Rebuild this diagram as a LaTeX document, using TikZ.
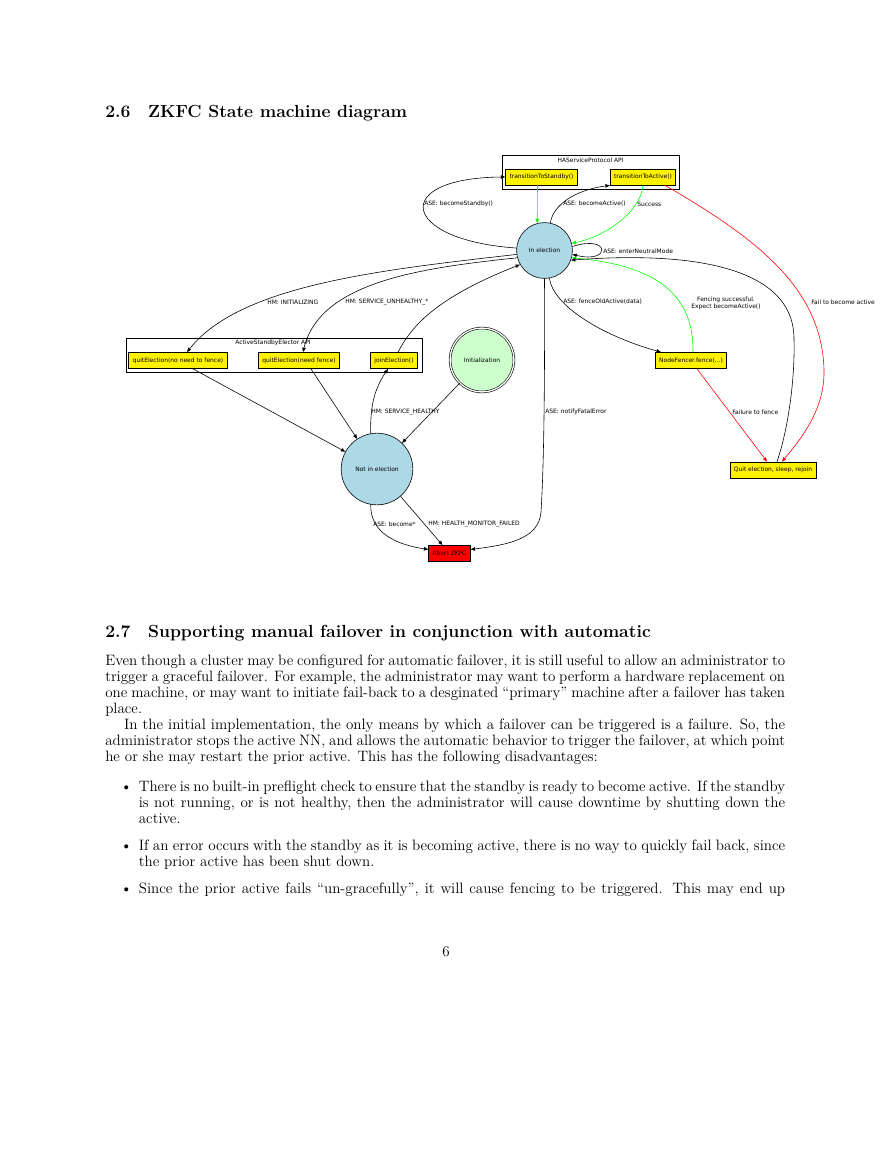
\documentclass[tikz,border=0pt]{standalone}
\usepackage{fontspec}
\usepackage{tikz}
\usetikzlibrary{arrows.meta,calc}
\newfontfamily\dgfont{DejaVu Sans}
\newcommand\dgsize{\dgfont\fontsize{4.1}{5}\selectfont}
\newcommand\bodysize{\fontsize{11.2}{12}\selectfont}
\newcommand\headsize{\fontsize{13.06}{16}\selectfont\bfseries}
\definecolor{lightblue}{HTML}{ADD8E6}
\definecolor{initgreen}{HTML}{CCFFCC}
\definecolor{edgegreen}{HTML}{00FF00}
\definecolor{edgered}{HTML}{FF0000}

\begin{document}
\begin{tikzpicture}[x=0.024177cm, y=-0.024177cm,
    state/.style={circle, draw, line width=0.4pt, fill=lightblue, font=\dgsize, inner sep=0pt},
    initstate/.style={circle, draw, line width=0.4pt, double=white, double distance=0.9pt, fill=initgreen, font=\dgsize, inner sep=0pt},
    apibox/.style={draw, line width=0.55pt, fill=yellow, font=\dgsize, minimum height=11pt, inner xsep=2.7pt, inner ysep=0pt},
    cluster/.style={draw, line width=0.55pt},
    lbl/.style={font=\dgsize, inner sep=0pt, anchor=west},
    edge/.style={-{Triangle[length=3pt,width=2.4pt]}, line width=0.4pt},
    page/.style={scale=0.924, transform shape, inner sep=0pt}
  ]
  \useasboundingbox (0,0) rectangle (893,1155);

  % section heading
  \node[page, anchor=base west] (sec6) at (105,118) {\headsize 2.6\quad ZKFC State machine diagram};

  % clusters
  \draw[cluster] (502,155) rectangle (679,189);
  \node[font=\dgsize, inner sep=0pt] (hasp) at (590.5,160) {HAServiceProtocol API};
  \draw[cluster] (126,338) rectangle (422,372);
  \node[font=\dgsize, inner sep=0pt] (ase) at (273,342.5) {ActiveStandbyElector API};

  % states and calls
  \node[apibox] (tts) at (541.5,177) {transitionToStandby()};
  \node[apibox] (tta) at (643,177) {transitionToActive()};
  \node[state, minimum size=38.4pt] (inel) at (544.5,250.5) {In election};
  \node[state, minimum size=49.3pt] (nie) at (377,469) {Not in election};
  \node[initstate, minimum size=43.9pt] (init) at (482,360) {Initialization};
  \node[apibox] (qnn) at (178,360.5) {quitElection(no need to fence)};
  \node[apibox] (qnf) at (299,360.5) {quitElection(need fence)};
  \node[apibox] (join) at (394,360.5) {joinElection()};
  \node[apibox] (nf) at (691,360.5) {NodeFencer.fence(...)};
  \node[apibox] (quit) at (773,470) {Quit election, sleep, rejoin};
  \node[apibox, fill=red] (abort) at (449.5,553.5) {Abort ZKFC};

  % transitions
  \draw[edge] (inel.175) .. controls (400,240) and (390,178) .. (tts.west);
  \draw[edge, edgegreen] ($(tts.south)+(-4,0)$) -- (inel.105);
  \draw[edge] (inel.78) .. controls (553,205) and (575,190) .. (tta.south west);
  \draw[edge, edgegreen] (tta.south) .. controls (640,215) and (600,238) .. (inel.15);
  \draw[edge] (inel.8) .. controls (610,234) and (612,264) .. (inel.-8);
  \draw[edge] (inel.188) .. controls (380,270) and (240,285) .. ($(qnn.north)+(9,0)$);
  \draw[edge] (inel.195) .. controls (420,268) and (320,282) .. ($(qnf.north)+(4,0)$);
  \draw[edge] ($(join.north)+(4,0)$) .. controls (410,330) and (430,300) .. (inel.210);
  \draw[edge] ($(qnn.south)+(15,0)$) -- (nie);
  \draw[edge] ($(qnf.south)+(12,0)$) -- (nie);
  \draw[edge] (nie.100) .. controls (370,405) and (375,388) .. ($(join.south)+(-6,0)$);
  \draw[edge] (init) -- (nie);
  \draw[edge] (inel.south) .. controls (545,420) and (543,480) .. (541,512)
    .. controls (539,540) and (505,545) .. ($(abort.east)+(0,-4)$);
  \draw[edge] (nie.-100) .. controls (370,535) and (400,545) .. ($(abort.west)+(0,-4)$);
  \draw[edge] (nie) -- ($(abort.north)+(-7,0)$);
  \draw[edge] (inel.-80) .. controls (553,305) and (600,335) .. ($(nf.north west)+(6,0)$);
  \draw[edge, edgegreen] ($(nf.north)+(2,0)$) .. controls (694,290) and (650,265) .. (inel.-15);
  \draw[edge, edgered] ($(nf.south)+(6,0)$) -- ($(quit.north)+(-6,0)$);
  \draw[edge] ($(quit.north)+(4,0)$) .. controls (788,430) and (795,380) .. (794,340)
    .. controls (795,250) and (640,255) .. (inel.-20);
  \draw[edge, edgered] ($(tta.south)+(22,0)$) .. controls (760,240) and (822,290) .. (824,370)
    .. controls (825,410) and (800,440) .. ($(quit.north)+(9,0)$);

  % transition labels
  \node[lbl] (lstandby) at (424,204) {ASE: becomeStandby()};
  \node[lbl] (lactive) at (563,204) {ASE: becomeActive()};
  \node[lbl] (lsuccess) at (637,204) {Success};
  \node[lbl] (lneutral) at (603,251) {ASE: enterNeutralMode};
  \node[lbl] (linit) at (267,302) {HM: INITIALIZING};
  \node[lbl] (lunhealthy) at (345,302) {HM: SERVICE\_UNHEALTHY\_*};
  \node[lbl] (lfenceold) at (563,302) {ASE: fenceOldActive(data)};
  \node[lbl, anchor=center, align=center] (lfenceok) at (726,303) {Fencing successful.\\Expect becomeActive()};
  \node[lbl] (lfailactive) at (811,302) {Fail to become active};
  \node[lbl] (lhealthy) at (371,412) {HM: SERVICE\_HEALTHY};
  \node[lbl] (lfatal) at (545,412) {ASE: notifyFatalError};
  \node[lbl] (lfailfence) at (732,412) {Failure to fence};
  \node[lbl] (lbecome) at (373,524) {ASE: become*};
  \node[lbl] (lhmfailed) at (428,524) {HM: HEALTH\_MONITOR\_FAILED};

  % following section
  \node[page, anchor=base west] (sec7) at (105,637) {\headsize 2.7\quad Supporting manual failover in conjunction with automatic};
  \node[page, anchor=base west, text width=506pt, align=justify, font=\bodysize] (body) at (105,665) {%
    \setlength{\parindent}{14pt}%
    \noindent Even though a cluster may be configured for automatic failover, it is still useful to allow an administrator to\linebreak
    trigger a graceful failover. For example, the administrator may want to perform a hardware replacement on\linebreak
    one machine, or may want to initiate fail-back to a desginated ``primary'' machine after a failover has taken\linebreak
    place.\par
    In the initial implementation, the only means by which a failover can be triggered is a failure. So, the\linebreak
    administrator stops the active NN, and allows the automatic behavior to trigger the failover, at which point\linebreak
    he or she may restart the prior active. This has the following disadvantages:\par
    \begin{itemize}
      \item There is no built-in preflight check to ensure that the standby is ready to become active. If the standby\linebreak
        is not running, or is not healthy, then the administrator will cause downtime by shutting down the\linebreak
        active.
      \item If an error occurs with the standby as it is becoming active, there is no way to quickly fail back, since\linebreak
        the prior active has been shut down.
      \item {\parfillskip=0pt Since the prior active fails ``un-gracefully'', it will cause fencing to be triggered. This may end up\par}
    \end{itemize}};
  \node[page, anchor=base, font=\bodysize] (pagenum) at (446,956) {6};
\end{tikzpicture}
\end{document}
